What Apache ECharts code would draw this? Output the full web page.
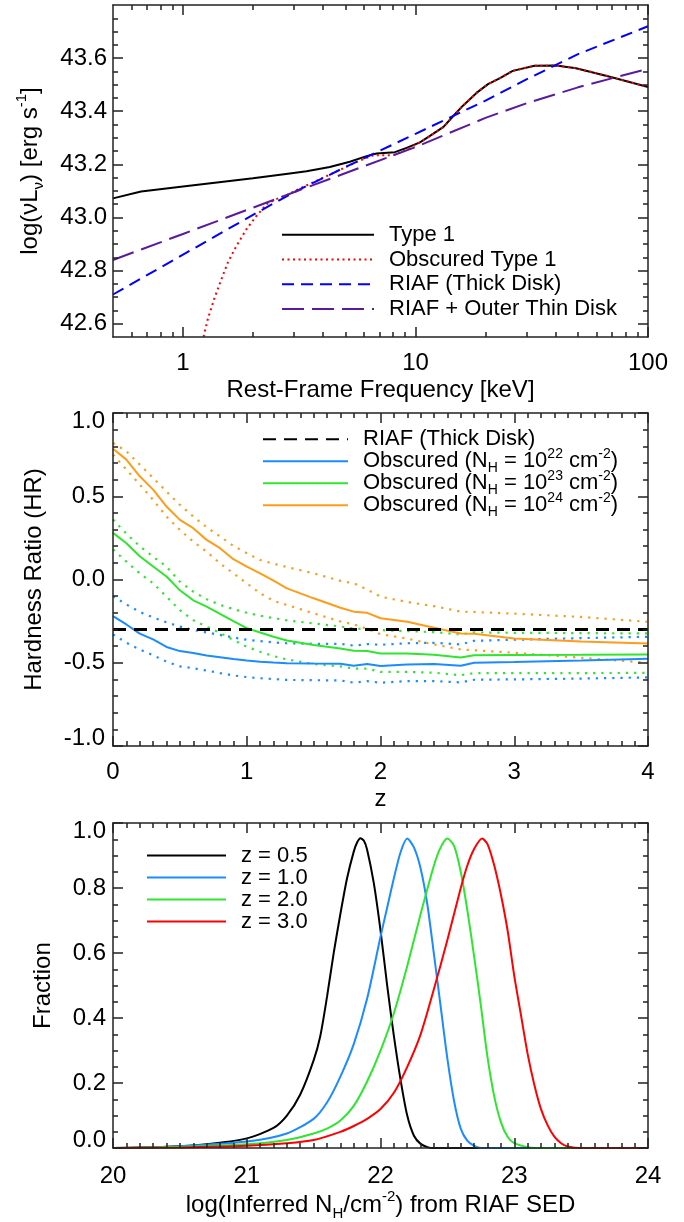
<!DOCTYPE html>
<html>
<head>
<meta charset="utf-8">
<script src="https://cdn.jsdelivr.net/npm/echarts@6/dist/echarts.min.js"></script>
<style>
html,body{margin:0;padding:0;background:#ffffff;}
#chart{width:684px;height:1222px;}
</style>
</head>
<body>
<div id="chart"></div>
<script>
// ---------------- Panel 1: SEDs, log(nu L_nu) vs rest-frame energy [keV] ----------------
const type1Energy = [0.5, 0.66, 1, 2, 2.88, 3.4, 4.28, 5.22, 6.16, 6.8, 8.15, 9.16, 10.45, 11.5, 13.2, 14.5, 16, 18.3, 20.5, 23.1, 26.2, 32.5, 40.3, 49, 69.2, 100];
const type1LogL   = [43.072, 43.098, 43.117, 43.148, 43.166, 43.174, 43.19, 43.21, 43.231, 43.241, 43.246, 43.262, 43.283, 43.306, 43.341, 43.381, 43.421, 43.469, 43.502, 43.525, 43.552, 43.571, 43.572, 43.562, 43.529, 43.491];
const obscEnergy  = [1.15, 1.229, 1.28, 1.37, 1.465, 1.56, 1.7, 1.875, 2.07, 2.29, 2.52, 2.79, 3.18, 3.88, 4.73, 5.58, 6.58, 8.02, 9.16, 10.45, 11.5, 13.2, 14.5, 16, 18.3, 20.5, 23.1, 26.2, 32.5, 40.3, 49, 69.2, 100];
const obscLogL    = [42.45, 42.556, 42.619, 42.70, 42.769, 42.831, 42.894, 42.956, 43.006, 43.05, 43.069, 43.084, 43.109, 43.144, 43.179, 43.209, 43.234, 43.234, 43.256, 43.283, 43.306, 43.341, 43.381, 43.421, 43.469, 43.502, 43.525, 43.552, 43.571, 43.572, 43.562, 43.529, 43.491];
const riafEnergy  = [0.5, 1, 2, 3, 5, 10, 20, 30, 50, 100];
const riafLogL    = [42.71, 42.86, 43.01, 43.095, 43.19, 43.315, 43.44, 43.52, 43.615, 43.72];
const diskEnergy  = [0.5, 1, 3, 10, 20, 30, 50, 100];
const diskLogL    = [42.84, 42.938, 43.095, 43.265, 43.375, 43.43, 43.49, 43.56];
const p1XMajor = [1, 10, 100];
const p1XMinor = [0.6, 0.7, 0.8, 0.9, 2, 3, 4, 5, 6, 7, 8, 9, 20, 30, 40, 50, 60, 70, 80, 90];
const p1YMajor = [42.6, 42.8, 43.0, 43.2, 43.4, 43.6];
const p1YMinor = [42.65, 42.7, 42.75, 42.85, 42.9, 42.95, 43.05, 43.1, 43.15, 43.25, 43.3, 43.35, 43.45, 43.5, 43.55, 43.65, 43.7, 43.75];

// ---------------- Panel 2: hardness ratio vs redshift ----------------
const hrZ    = [0, 0.1, 0.2, 0.3, 0.4, 0.5, 0.6, 0.7, 0.8, 0.9, 1.0, 1.1, 1.2, 1.3, 1.5, 1.7, 1.8, 1.9, 2.0, 2.2, 2.4, 2.6, 2.7, 3.0, 3.5, 4.0];
const riafHRz = [0, 4];
const riafHR  = [-0.3, -0.3];
const hr22   = [-0.22, -0.27, -0.325, -0.36, -0.405, -0.43, -0.442, -0.456, -0.467, -0.478, -0.487, -0.494, -0.499, -0.503, -0.505, -0.506, -0.518, -0.508, -0.52, -0.51, -0.508, -0.518, -0.5, -0.496, -0.487, -0.476];
const hr22Hi = [-0.10, -0.15, -0.195, -0.228, -0.257, -0.283, -0.302, -0.318, -0.333, -0.348, -0.362, -0.37, -0.378, -0.383, -0.386, -0.387, -0.397, -0.388, -0.392, -0.383, -0.38, -0.39, -0.368, -0.362, -0.352, -0.344];
const hr22Lo = [-0.33, -0.38, -0.42, -0.455, -0.493, -0.522, -0.533, -0.547, -0.562, -0.576, -0.586, -0.593, -0.598, -0.603, -0.605, -0.606, -0.62, -0.61, -0.62, -0.61, -0.61, -0.618, -0.602, -0.6, -0.595, -0.588];
const hr23   = [0.28, 0.218, 0.14, 0.078, 0.018, -0.065, -0.125, -0.163, -0.207, -0.25, -0.292, -0.318, -0.344, -0.366, -0.394, -0.415, -0.428, -0.43, -0.444, -0.445, -0.452, -0.468, -0.455, -0.453, -0.452, -0.45];
const hr23Hi = [0.36, 0.275, 0.2, 0.137, 0.077, -0.013, -0.073, -0.118, -0.152, -0.178, -0.2, -0.218, -0.232, -0.245, -0.264, -0.282, -0.295, -0.297, -0.304, -0.31, -0.316, -0.33, -0.318, -0.32, -0.322, -0.324];
const hr23Lo = [0.18, 0.107, 0.037, -0.023, -0.103, -0.184, -0.244, -0.284, -0.32, -0.364, -0.404, -0.434, -0.46, -0.48, -0.508, -0.522, -0.535, -0.535, -0.555, -0.555, -0.56, -0.575, -0.562, -0.562, -0.562, -0.561];
const hr24   = [0.785, 0.72, 0.62, 0.54, 0.438, 0.358, 0.308, 0.238, 0.188, 0.122, 0.077, 0.037, -0.007, -0.053, -0.113, -0.17, -0.193, -0.2, -0.233, -0.254, -0.29, -0.324, -0.326, -0.354, -0.372, -0.384];
const hr24Hi = [0.82, 0.77, 0.69, 0.61, 0.528, 0.448, 0.378, 0.314, 0.258, 0.202, 0.158, 0.117, 0.095, 0.075, 0.037, -0.008, -0.023, -0.06, -0.103, -0.135, -0.16, -0.193, -0.195, -0.205, -0.225, -0.254];
const hr24Lo = [0.75, 0.66, 0.57, 0.478, 0.378, 0.298, 0.227, 0.167, 0.097, 0.037, -0.023, -0.083, -0.128, -0.153, -0.203, -0.252, -0.27, -0.296, -0.328, -0.355, -0.39, -0.42, -0.425, -0.44, -0.47, -0.5];

// ---------------- Panel 3: distributions of inferred N_H ----------------
const nh05X = [20.0, 20.4, 20.7, 21.0, 21.2, 21.3, 21.4, 21.5, 21.55, 21.6, 21.65, 21.7, 21.75, 21.8, 21.825, 21.85, 21.875, 21.9, 21.95, 22.0, 22.05, 22.1, 22.15, 22.2, 22.25, 22.3, 22.35, 22.4, 24.0];
const nh05F = [0.0, 0.004, 0.012, 0.03, 0.062, 0.1, 0.165, 0.27, 0.345, 0.465, 0.6, 0.72, 0.83, 0.912, 0.94, 0.953, 0.946, 0.918, 0.815, 0.67, 0.5, 0.345, 0.21, 0.1, 0.038, 0.013, 0.003, 0.0, 0.0];
const nh10X = [20.0, 20.5, 21.0, 21.3, 21.5, 21.6, 21.7, 21.8, 21.9, 22.0, 22.05, 22.1, 22.15, 22.2, 22.25, 22.3, 22.35, 22.4, 22.45, 22.5, 22.55, 22.6, 22.65, 22.7, 22.75, 24.0];
const nh10F = [0.0, 0.006, 0.02, 0.045, 0.09, 0.14, 0.22, 0.32, 0.46, 0.65, 0.74, 0.83, 0.91, 0.952, 0.925, 0.86, 0.75, 0.595, 0.435, 0.275, 0.145, 0.06, 0.022, 0.007, 0.0, 0.0];
const nh20X = [20.0, 20.5, 21.0, 21.3, 21.5, 21.6, 21.7, 21.8, 21.9, 22.0, 22.1, 22.2, 22.3, 22.4, 22.45, 22.5, 22.55, 22.6, 22.65, 22.7, 22.75, 22.8, 22.85, 22.9, 22.95, 23.0, 23.1, 23.2, 24.0];
const nh20F = [0.0, 0.004, 0.012, 0.025, 0.045, 0.06, 0.085, 0.13, 0.205, 0.3, 0.415, 0.56, 0.72, 0.87, 0.925, 0.952, 0.93, 0.85, 0.73, 0.59, 0.44, 0.28, 0.16, 0.08, 0.035, 0.015, 0.003, 0.0, 0.0];
const nh30X = [20.0, 20.5, 21.0, 21.3, 21.5, 21.7, 21.8, 21.9, 22.0, 22.1, 22.2, 22.3, 22.4, 22.5, 22.6, 22.65, 22.7, 22.76, 22.8, 22.85, 22.9, 22.95, 23.0, 23.05, 23.1, 23.15, 23.2, 23.25, 23.3, 23.35, 23.4, 23.5, 24.0];
const nh30F = [0.0, 0.002, 0.007, 0.015, 0.025, 0.05, 0.068, 0.09, 0.12, 0.17, 0.25, 0.35, 0.49, 0.64, 0.8, 0.87, 0.92, 0.952, 0.935, 0.87, 0.78, 0.67, 0.53, 0.41, 0.29, 0.195, 0.12, 0.07, 0.035, 0.015, 0.005, 0.0, 0.0];

// ---------------- text ----------------
const legendText = {
  t1: 'Type 1', ot1: 'Obscured Type 1', riaf: 'RIAF (Thick Disk)', riafdisk: 'RIAF + Outer Thin Disk',
  hrRiaf: '{a|RIAF (Thick Disk)}',
  hr22: '{a|Obscured (N}{sub|H}{a| = 10}{sup|22}{a| cm}{sup|-2}{a|)}',
  hr23: '{a|Obscured (N}{sub|H}{a| = 10}{sup|23}{a| cm}{sup|-2}{a|)}',
  hr24: '{a|Obscured (N}{sub|H}{a| = 10}{sup|24}{a| cm}{sup|-2}{a|)}',
  z05: 'z = 0.5', z10: 'z = 1.0', z20: 'z = 2.0', z30: 'z = 3.0'
};

// ---------------- styling helpers ----------------
const FONT = '"Liberation Sans", Arial, Helvetica, sans-serif';
const AX = '#222';
const LW = 1.5;
const C = { black: '#000000', red: '#ff0000', blue: '#0000ff', purple: '#5a1a9c',
            lblue: '#1a8cff', green: '#2ee62e', orange: '#ff9c1a' };

function pairs(xs, ys) { return xs.map((x, i) => [x, ys[i]]); }
function txt(size) { return { fontSize: size, fontFamily: FONT, color: '#000' }; }
function richSet(size, lh, small) {
  return {
    a:   Object.assign(txt(size), { lineHeight: lh, verticalAlign: 'middle' }),
    sup: Object.assign(txt(small), { lineHeight: small, verticalAlign: 'top' }),
    sub: Object.assign(txt(small), { lineHeight: small, verticalAlign: 'bottom' })
  };
}
function lineCfg(show) { return { show: show, onZero: false, lineStyle: { color: AX, width: LW } }; }
function tickCfg(len, values) {
  const t = { show: true, inside: true, length: len, lineStyle: { color: AX, width: LW } };
  if (values) t.customValues = values;
  return t;
}
function hideLabel() { return { show: false }; }
function endFormatter(min, max) {
  return function (v) {
    const s = v.toFixed(1);
    if (Math.abs(v - max) < 1e-9) return '{hi|' + s + '}';
    if (Math.abs(v - min) < 1e-9) return '{lo|' + s + '}';
    return s;
  };
}
const endRich = {
  hi: Object.assign(txt(24), { padding: [16, 0, 0, 0] }),
  lo: Object.assign(txt(24), { padding: [0, 0, 16, 0] })
};
function base(grid, pos, scale) {
  return Object.assign({ gridIndex: grid, position: pos, splitLine: { show: false },
    minorSplitLine: { show: false }, axisPointer: { show: false }, silent: true, z: 5 }, scale);
}

// scales
const p1XScale = { type: 'log', logBase: 10, min: 0.5, max: 100 };
const p1YScale = { type: 'value', min: 42.55, max: 43.8 };
const p2XScale = { type: 'value', min: 0, max: 4, interval: 1 };
const p2YScale = { type: 'value', min: -1, max: 1, interval: 0.5 };
const p3XScale = { type: 'value', min: 20, max: 24, interval: 1 };
const p3YScale = { type: 'value', min: 0, max: 1, interval: 0.2 };
function minor(n) { return { show: true, splitNumber: n, length: 5, lineStyle: { color: AX, width: LW } }; }

const xAxes = [
  // panel 1 (0-3)
  Object.assign(base(0, 'bottom', p1XScale), {
    axisLine: lineCfg(true), axisTick: tickCfg(10, p1XMajor),
    axisLabel: Object.assign(txt(24), { show: true, customValues: p1XMajor, margin: 14 }),
    name: 'Rest-Frame Frequency [keV]', nameLocation: 'middle', nameGap: 41, nameTextStyle: txt(24)
  }),
  Object.assign(base(0, 'bottom', p1XScale), { axisLine: lineCfg(false), axisTick: tickCfg(5, p1XMinor), axisLabel: hideLabel() }),
  Object.assign(base(0, 'top', p1XScale), { axisLine: lineCfg(true), axisTick: tickCfg(10, p1XMajor), axisLabel: hideLabel() }),
  Object.assign(base(0, 'top', p1XScale), { axisLine: lineCfg(false), axisTick: tickCfg(5, p1XMinor), axisLabel: hideLabel() }),
  // panel 2 (4-5)
  Object.assign(base(1, 'bottom', p2XScale), {
    axisLine: lineCfg(true), axisTick: tickCfg(10), minorTick: minor(10),
    axisLabel: Object.assign(txt(24), { show: true, margin: 14 }),
    name: 'z', nameLocation: 'middle', nameGap: 41, nameTextStyle: txt(24)
  }),
  Object.assign(base(1, 'top', p2XScale), { axisLine: lineCfg(true), axisTick: tickCfg(10), minorTick: minor(10), axisLabel: hideLabel() }),
  // panel 3 (6-7)
  Object.assign(base(2, 'bottom', p3XScale), {
    axisLine: lineCfg(true), axisTick: tickCfg(10), minorTick: minor(10),
    axisLabel: Object.assign(txt(24), { show: true, margin: 16 }),
    name: '{a|log(Inferred N}{sub|H}{a|/cm}{sup|-2}{a|) from RIAF SED}', nameLocation: 'middle', nameGap: 38,
    nameTextStyle: Object.assign(txt(24), { rich: richSet(24, 32, 15) })
  }),
  Object.assign(base(2, 'top', p3XScale), { axisLine: lineCfg(true), axisTick: tickCfg(10), minorTick: minor(10), axisLabel: hideLabel() })
];

const yAxes = [
  // panel 1 (0-3)
  Object.assign(base(0, 'left', p1YScale), {
    axisLine: lineCfg(true), axisTick: tickCfg(10, p1YMajor),
    axisLabel: Object.assign(txt(24), { show: true, customValues: p1YMajor, margin: 6, formatter: v => v.toFixed(1) }),
    name: '{a|log(νL}{sub|ν}{a|) [erg s}{sup|-1}{a|]}', nameLocation: 'middle', nameGap: 67,
    nameTextStyle: Object.assign(txt(24), { rich: richSet(24, 32, 15) })
  }),
  Object.assign(base(0, 'left', p1YScale), { axisLine: lineCfg(false), axisTick: tickCfg(5, p1YMinor), axisLabel: hideLabel() }),
  Object.assign(base(0, 'right', p1YScale), { axisLine: lineCfg(true), axisTick: tickCfg(10, p1YMajor), axisLabel: hideLabel() }),
  Object.assign(base(0, 'right', p1YScale), { axisLine: lineCfg(false), axisTick: tickCfg(5, p1YMinor), axisLabel: hideLabel() }),
  // panel 2 (4-5)
  Object.assign(base(1, 'left', p2YScale), {
    axisLine: lineCfg(true), axisTick: tickCfg(10), minorTick: minor(5),
    axisLabel: Object.assign(txt(24), { show: true, margin: 8, formatter: endFormatter(-1, 1), rich: endRich }),
    name: 'Hardness Ratio (HR)', nameLocation: 'middle', nameGap: 67, nameTextStyle: txt(24)
  }),
  Object.assign(base(1, 'right', p2YScale), { axisLine: lineCfg(true), axisTick: tickCfg(10), minorTick: minor(5), axisLabel: hideLabel() }),
  // panel 3 (6-7)
  Object.assign(base(2, 'left', p3YScale), {
    axisLine: lineCfg(true), axisTick: tickCfg(10), minorTick: minor(4),
    axisLabel: Object.assign(txt(24), { show: true, margin: 7, formatter: endFormatter(0, 1), rich: endRich }),
    name: 'Fraction', nameLocation: 'middle', nameGap: 58, nameTextStyle: txt(24)
  }),
  Object.assign(base(2, 'right', p3YScale), { axisLine: lineCfg(true), axisTick: tickCfg(10), minorTick: minor(4), axisLabel: hideLabel() })
];

function line(name, xi, yi, data, color, width, type, extra) {
  return Object.assign({
    name: name, type: 'line', xAxisIndex: xi, yAxisIndex: yi, data: data,
    symbol: 'none', showSymbol: false, clip: true, silent: true, animation: false,
    lineStyle: { color: color, width: width, type: type },
    itemStyle: { color: color, opacity: 0 }
  }, extra || {});
}

const series = [
  // panel 1
  line('t1', 0, 0, pairs(type1Energy, type1LogL), C.black, 2, 'solid'),
  line('ot1', 0, 0, pairs(obscEnergy, obscLogL), C.red, 2, [2, 3.5]),
  line('riaf', 0, 0, pairs(riafEnergy, riafLogL), C.blue, 2, [12, 7]),
  line('riafdisk', 0, 0, pairs(diskEnergy, diskLogL), C.purple, 2, [22, 8]),
  // panel 2: dotted bands
  line('hr22hi', 4, 4, pairs(hrZ, hr22Hi), C.lblue, 2.2, [2.2, 6]),
  line('hr22lo', 4, 4, pairs(hrZ, hr22Lo), C.lblue, 2.2, [2.2, 6]),
  line('hr23hi', 4, 4, pairs(hrZ, hr23Hi), C.green, 2.2, [2.2, 6]),
  line('hr23lo', 4, 4, pairs(hrZ, hr23Lo), C.green, 2.2, [2.2, 6]),
  line('hr24hi', 4, 4, pairs(hrZ, hr24Hi), C.orange, 2.2, [2.2, 6]),
  line('hr24lo', 4, 4, pairs(hrZ, hr24Lo), C.orange, 2.2, [2.2, 6]),
  // panel 2: main curves
  line('hr22', 4, 4, pairs(hrZ, hr22), C.lblue, 2, 'solid'),
  line('hr23', 4, 4, pairs(hrZ, hr23), C.green, 2, 'solid'),
  line('hr24', 4, 4, pairs(hrZ, hr24), C.orange, 2, 'solid'),
  line('hrRiaf', 4, 4, pairs(riafHRz, riafHR), C.black, 3, [13, 8]),
  // panel 3
  line('z05', 6, 6, pairs(nh05X, nh05F), C.black, 2, 'solid', { smooth: 0.25 }),
  line('z10', 6, 6, pairs(nh10X, nh10F), C.lblue, 2, 'solid', { smooth: 0.25 }),
  line('z20', 6, 6, pairs(nh20X, nh20F), C.green, 2, 'solid', { smooth: 0.25 }),
  line('z30', 6, 6, pairs(nh30X, nh30F), C.red, 2, 'solid', { smooth: 0.25 })
];

function legendBox(left, top, w, lh, gap, names, fontSize, rich) {
  const ts = Object.assign(txt(fontSize), { lineHeight: lh, padding: [0, 0, 0, 10] });
  if (rich) ts.rich = rich;
  return {
    orient: 'vertical', left: left, top: top, padding: 0, itemGap: gap,
    itemWidth: w, itemHeight: 10, data: names, selectedMode: false,
    itemStyle: { opacity: 0, borderWidth: 0 },
    formatter: n => legendText[n], textStyle: ts, backgroundColor: 'transparent'
  };
}

const option = {
  animation: false,
  backgroundColor: '#ffffff',
  grid: [
    { left: 113, right: 36, top: 5, height: 332, containLabel: false },
    { left: 113, right: 36, top: 413, height: 333, containLabel: false },
    { left: 113, right: 36, top: 823, height: 332, containLabel: false }
  ],
  xAxis: xAxes,
  yAxis: yAxes,
  legend: [
    legendBox(281, 222.5, 92, 24.7, 0, ['t1', 'ot1', 'riaf', 'riafdisk'], 22),
    legendBox(262, 425.3, 85, 28, -6, ['hrRiaf', 'hr22', 'hr23', 'hr24'], 22, richSet(22, 28, 14)),
    legendBox(146, 844.5, 79, 21.1, 0, ['z05', 'z10', 'z20', 'z30'], 22)
  ],
  series: series
};

const chart = echarts.init(document.getElementById('chart'), null, { renderer: 'canvas' });
chart.setOption(option);
</script>
</body>
</html>
